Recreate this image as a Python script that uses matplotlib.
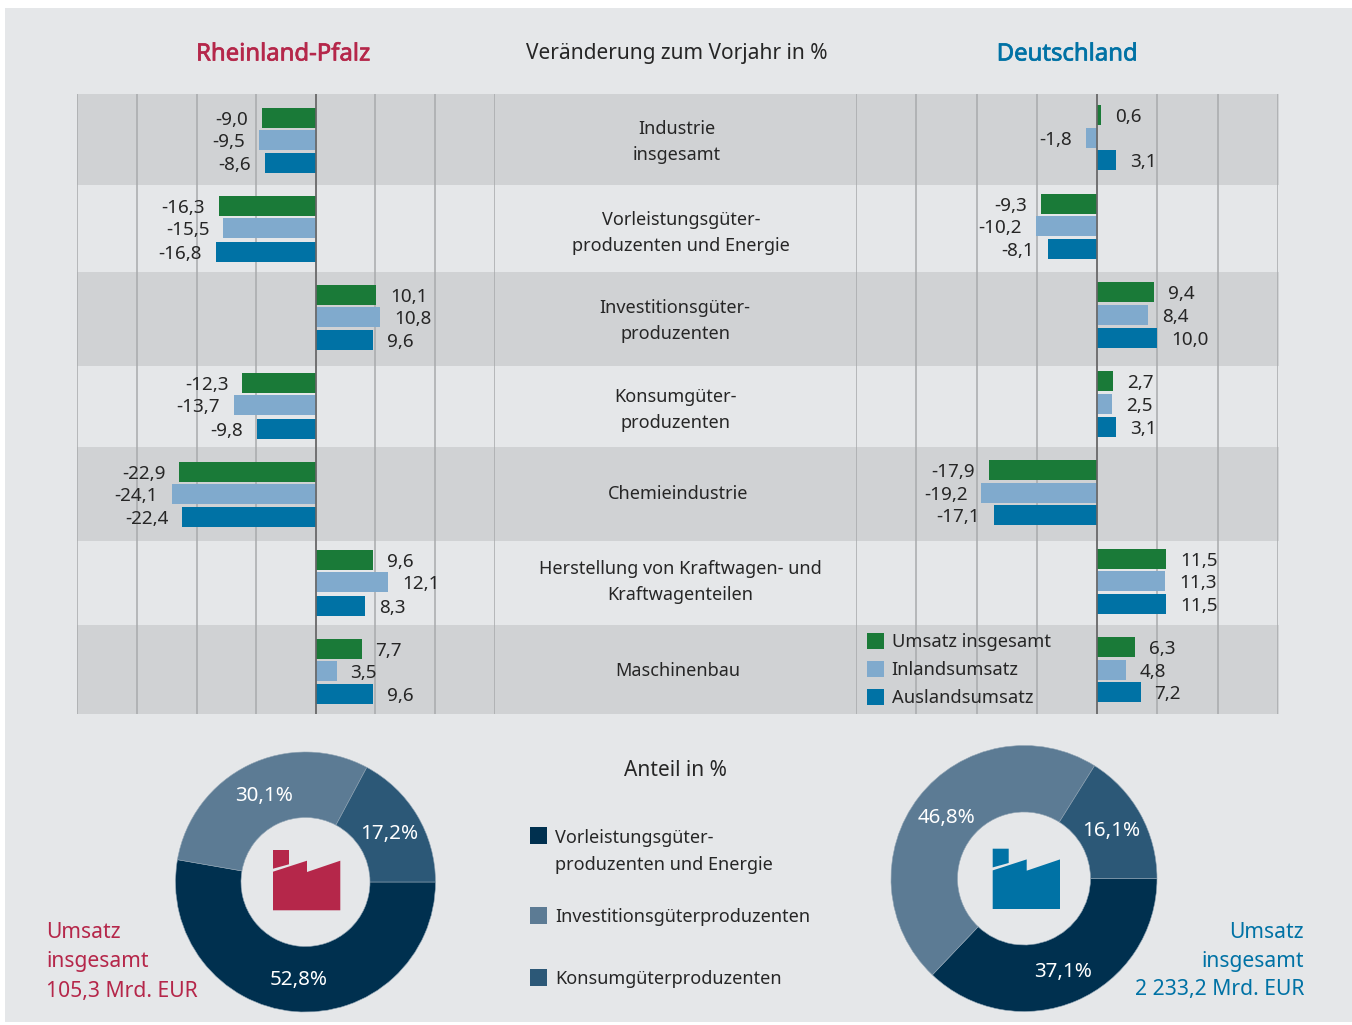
import matplotlib
matplotlib.use('Agg')
import matplotlib.pyplot as plt
import matplotlib.patheffects as pe
from matplotlib.patches import Rectangle, Polygon

plt.rcParams['font.family'] = ['Noto Sans', 'DejaVu Sans']

# Data
categories = ['Industrie\ninsgesamt',
              'Vorleistungsgüter-\nproduzenten und Energie',
              'Investitionsgüter-\nproduzenten',
              'Konsumgüter-\nproduzenten',
              'Chemieindustrie',
              'Herstellung von Kraftwagen- und\nKraftwagenteilen',
              'Maschinenbau']
series_names = ['Umsatz insgesamt', 'Inlandsumsatz', 'Auslandsumsatz']

rlp_total = [-9.0, -16.3, 10.1, -12.3, -22.9, 9.6, 7.7]
rlp_domestic = [-9.5, -15.5, 10.8, -13.7, -24.1, 12.1, 3.5]
rlp_foreign = [-8.6, -16.8, 9.6, -9.8, -22.4, 8.3, 9.6]

de_total = [0.6, -9.3, 9.4, 2.7, -17.9, 11.5, 6.3]
de_domestic = [-1.8, -10.2, 8.4, 2.5, -19.2, 11.3, 4.8]
de_foreign = [3.1, -8.1, 10.0, 3.1, -17.1, 11.5, 7.2]

share_names = ['Vorleistungsgüter-\nproduzenten und Energie',
               'Investitionsgüterproduzenten',
               'Konsumgüterproduzenten']
rlp_shares = [52.8, 30.1, 17.2]
de_shares = [37.1, 46.8, 16.1]

# Colours
CRIMSON = '#b5274a'
BLUE = '#0072a5'
TEXT = '#262626'
BG = '#e5e7e9'
BAND = '#d0d2d4'
bar_colors = ['#1a7a38', '#80aacd', BLUE]
pie_colors = ['#00304f', '#5c7b94', '#2c5877']

# Vertical layout in pixels of the original picture
band_edges = [94, 185, 272, 366, 447, 541, 625, 714]
rlp_rows = [[118, 140, 163], [206, 228, 252], [295, 317, 340], [383, 405, 429],
            [472, 494, 517], [560, 582, 606], [649, 671, 694]]
de_rows = [[115, 138, 160], [204, 226, 249], [292, 315, 338], [381, 404, 427],
           [470, 493, 515], [559, 581, 604], [647, 670, 692]]
cat_x = [677, 681, 675, 676, 678, 680, 678]
cat_y = [142, 233, 321, 410, 494, 582, 671]

W, H = 1352, 1025
FS = 13.0
NUM_FS = 13.6

fig = plt.figure(figsize=(W / 100, H / 100), dpi=100, facecolor='white')

# full figure axes in pixel units for the background and free text
bg = fig.add_axes([0, 0, 1, 1], zorder=0)
bg.set_xlim(0, W)
bg.set_ylim(H, 0)
bg.axis('off')
bg.add_patch(Rectangle((5, 8), W - 5, 1014, color=BG, lw=0))
for i in range(7):
    if i % 2 == 0:
        bg.add_patch(Rectangle((77, band_edges[i]), 1202, band_edges[i + 1] - band_edges[i],
                               color=BAND, lw=0))


def bar_panel(left, right, values, rows):
    ax = fig.add_axes([left / W, 1 - 714 / H, (right - left) / W, (714 - 94) / H], zorder=2)
    ax.patch.set_alpha(0)
    ax.set_xlim(-40, 30)
    ax.set_ylim(714, 94)
    ax.set_xticks(range(-40, 31, 10))
    ax.set_yticks([])
    ax.tick_params(length=0, labelbottom=False)
    ax.grid(axis='x', color='#a8aaac', lw=1.1, zorder=1)
    ax.set_axisbelow(True)
    for s in ax.spines.values():
        s.set_visible(False)
    containers = []
    for j, vals in enumerate(values):
        ys = [r[j] for r in rows]
        b = ax.barh(ys, vals, height=20.5, color=bar_colors[j], zorder=2, label=series_names[j])
        containers.append(b)
        for y, v in zip(ys, vals):
            ax.annotate(f'{v:.1f}'.replace('.', ','), (v, y),
                        xytext=(10 if v > 0 else -10, -1.2), textcoords='offset points',
                        ha='left' if v > 0 else 'right', va='center',
                        fontsize=NUM_FS, color=TEXT, zorder=4)
    ax.axvline(0, color='#666666', lw=1.2, zorder=3)
    return ax, containers


ax_rlp, _ = bar_panel(77.3, 494.7, [rlp_total, rlp_domestic, rlp_foreign], rlp_rows)
ax_de, de_bars = bar_panel(856, 1278, [de_total, de_domestic, de_foreign], de_rows)

leg = ax_de.legend(handles=de_bars, loc='upper left', bbox_to_anchor=(867, 632.5),
                   bbox_transform=bg.transData, frameon=False, fontsize=FS + 0.2,
                   borderpad=0, borderaxespad=0, handlelength=0.93, handleheight=1.0,
                   handletextpad=0.42, labelspacing=0.52, labelcolor=TEXT)

# Headings, with a thin stroke for the medium weight
medium = [pe.withStroke(linewidth=0.5, foreground=CRIMSON)]
bg.text(283, 54.5, 'Rheinland-Pfalz', color=CRIMSON, fontsize=17.2,
        ha='center', va='center', path_effects=medium)
bg.text(677, 54, 'Veränderung zum Vorjahr in %', color=TEXT, fontsize=15,
        ha='center', va='center')
medium = [pe.withStroke(linewidth=0.5, foreground=BLUE)]
bg.text(1067, 54.5, 'Deutschland', color=BLUE, fontsize=17.2,
        ha='center', va='center', path_effects=medium)
bg.text(675, 771, 'Anteil in %', color=TEXT, fontsize=15, ha='center', va='center')

# Category names
for name, x, y in zip(categories, cat_x, cat_y):
    bg.text(x, y, name, color=TEXT, fontsize=FS, ha='center', va='center',
            linespacing=1.58)


def donut(cx, cy, r, inner, shares):
    ax = fig.add_axes([(cx - r) / W, 1 - (cy + r) / H, 2 * r / W, 2 * r / H], zorder=1)
    ax.pie(shares, colors=pie_colors, startangle=0, counterclock=False, radius=1,
           wedgeprops=dict(width=1 - inner / r, edgecolor='#8fa3b3', linewidth=0.4))
    ax.set_xlim(-1, 1)
    ax.set_ylim(-1, 1)
    return ax


donut(305.5, 882, 130, 64.5, rlp_shares)
donut(1024, 878.5, 133, 66.5, de_shares)

# Share labels
rlp_label_pos = [(299, 980), (264, 796), (389, 834)]
de_label_pos = [(1063, 972), (947, 818), (1111, 831)]
for shares, pos in [(rlp_shares, rlp_label_pos), (de_shares, de_label_pos)]:
    for v, (x, y) in zip(shares, pos):
        share_text = f'{v:.1f}%'.replace('.', ',')
        fig.text(x / W, 1 - y / H, share_text, color='white', fontsize=14.8,
                 ha='center', va='center', zorder=5)


# Factory icons
def factory(dx, dy, color):
    chimney = [(273, 850), (289, 850), (289, 864.3), (273, 868.7)]
    body = [(273, 871.7), (307, 860.7), (307, 872), (340.3, 860.7), (340.3, 910.3), (273, 910.3)]
    for pts in (chimney, body):
        fig.add_artist(Polygon([((x + dx) / W, 1 - (y + dy) / H) for x, y in pts],
                               closed=True, color=color, lw=0,
                               transform=fig.transFigure, zorder=5))


factory(0, 0, CRIMSON)
factory(719.7, -1.3, BLUE)

# Legend for the shares
legend_y = [(835.5, 851.5), (915, 917.5), (977.5, 979.5)]
for name, col, (sq_y, txt_y) in zip(share_names, pie_colors, legend_y):
    bg.add_patch(Rectangle((530, sq_y - 8.5), 17, 17, color=col, lw=0))
    bg.text(555, txt_y, name, color=TEXT, fontsize=FS, ha='left', va='center',
            linespacing=1.58)

# Totals
bg.text(46, 962, 'Umsatz\ninsgesamt\n105,3 Mrd. EUR', color=CRIMSON, fontsize=15.2,
        ha='left', va='center', linespacing=1.5)
bg.text(1304, 961, 'Umsatz\ninsgesamt\n2 233,2 Mrd. EUR', color=BLUE, fontsize=15.2,
        ha='right', va='center', linespacing=1.5, multialignment='right')

fig.savefig('out.png', dpi=100, facecolor='white')
